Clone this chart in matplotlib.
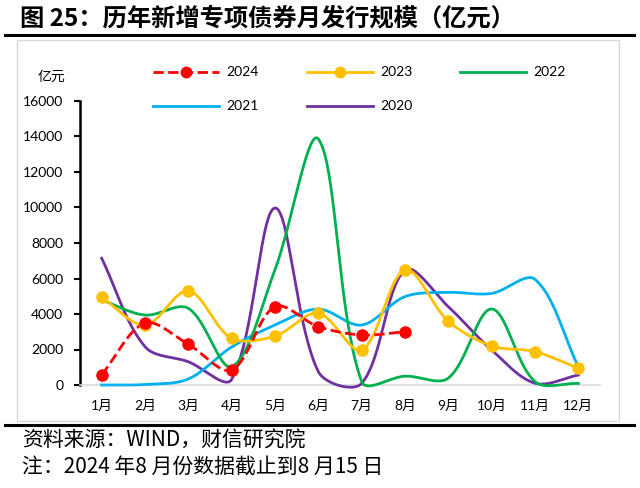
import numpy as np
import matplotlib
matplotlib.use("Agg")
import matplotlib.pyplot as plt
from matplotlib.lines import Line2D
from matplotlib.patches import Rectangle

plt.rcParams['font.family'] = ['Lato', 'Noto Sans CJK SC', 'DejaVu Sans']

months = ["1月", "2月", "3月", "4月", "5月", "6月", "7月", "8月", "9月", "10月", "11月", "12月"]
s2024 = [580, 3480, 2290, 850, 4410, 3290, 2820, 3000]
s2023 = [4940, 3380, 5300, 2630, 2760, 4040, 1970, 6480, 3600, 2200, 1880, 940]
s2022 = [4790, 3940, 4320, 1030, 6500, 13860, 190, 500, 390, 4280, 190, 90]
s2021 = [0, 30, 340, 2140, 3380, 4280, 3380, 4980, 5220, 5160, 5950, 1030]
s2020 = [7140, 2160, 1310, 320, 9970, 750, 90, 6480, 4410, 1970, 100, 560]

W, H = 640, 488
XS, YS = 43.33, 17.75 / 1000.0  # px per category / per unit


def smooth(xs, ys, n=40):
    # Bezier smoothing (Excel-like) computed in pixel-proportional space
    P = np.column_stack([np.asarray(xs, float) * XS, np.asarray(ys, float) * YS])
    P = np.vstack([P[0], P, P[-1]])
    out = []
    t = np.linspace(0, 1, n)[:, None]
    for i in range(1, len(P) - 2):
        p0, p1, p2, p3 = P[i - 1], P[i], P[i + 1], P[i + 2]
        d01 = np.linalg.norm(p1 - p0)
        d12 = np.linalg.norm(p2 - p1)
        d23 = np.linalg.norm(p3 - p2)
        a = d12 / (d01 + d12) / 1.5 if d01 + d12 > 0 else 0
        b = d12 / (d12 + d23) / 1.5 if d12 + d23 > 0 else 0
        c1 = p1 + (p2 - p0) * a * 0.5
        c2 = p2 - (p3 - p1) * b * 0.5
        seg = ((1 - t) ** 3) * p1 + 3 * ((1 - t) ** 2) * t * c1 + 3 * (1 - t) * t ** 2 * c2 + t ** 3 * p2
        out.append(seg if i == 1 else seg[1:])
    out = np.vstack(out)
    return out[:, 0] / XS, out[:, 1] / YS


fig = plt.figure(figsize=(6.4, 4.88), dpi=100)

ax = fig.add_axes([80 / W, 1 - 385 / H, (600 - 80) / W, (385 - 101) / H])

x_all = np.arange(1, 13)
series = [
    ("2020", s2020, "#7030A0", "-", None),
    ("2021", s2021, "#00B0F0", "-", None),
    ("2022", s2022, "#00B050", "-", None),
    ("2023", s2023, "#FFC000", "-", "o"),
    ("2024", s2024, "#FF0000", "--", "o"),
]
handles = {}
for name, vals, col, ls, mk in series:
    xs = x_all[:len(vals)]
    sx, sy = smooth(xs, vals)
    ax.plot(sx, sy, color=col, lw=2.0, ls=ls, zorder=3, clip_on=False)
    if mk:
        ax.plot(xs, vals, ls="none", marker=mk, ms=8, color=col, zorder=4, clip_on=False)
    handles[name] = (col, ls, mk)

ax.set_xlim(0.5, 12.5)
ax.set_ylim(0, 16000)
ax.set_yticks(np.arange(0, 16001, 2000))
ax.set_xticks(x_all)
ax.set_xticklabels(months)
ax.tick_params(axis='x', length=0, pad=11, labelsize=10)
ax.tick_params(axis='y', direction='out', length=4, width=1.5, labelsize=10, pad=8)
for s in ["top", "right"]:
    ax.spines[s].set_visible(False)
ax.spines["left"].set_linewidth(1.8)
ax.spines["bottom"].set_color("#D9D9D9")
ax.spines["bottom"].set_linewidth(1.2)

# legend (two rows, three columns)
legend_order = ["2024", "2023", "2022", "2021", "2020"]
col_x = [153, 307, 460]
row_y = [72, 106]
for k, name in enumerate(legend_order):
    col, ls, mk = handles[name]
    x0 = col_x[k % 3]
    y0 = row_y[k // 3]
    fig.add_artist(Line2D([x0 / W, (x0 + 66) / W], [1 - y0 / H, 1 - y0 / H],
                          color=col, lw=2.0, ls=ls))
    if mk:
        fig.add_artist(Line2D([(x0 + 33) / W], [1 - y0 / H], color=col,
                              marker=mk, ms=7.5, ls="none"))
    fig.text((x0 + 73) / W, 1 - y0 / H, name, fontsize=10, ha="left", va="center")

fig.text(51 / W, 1 - 76 / H, "亿元", fontsize=10, ha="center", va="center")

# title and frames
fig.text(20 / W, 1 - 18 / H, "图 25：历年新增专项债券月发行规模（亿元）",
         fontsize=17.5, fontweight="bold", ha="left", va="center",
         family=['Noto Sans CJK SC', 'DejaVu Sans'])
fig.add_artist(Line2D([5 / W, 634 / W], [1 - 35 / H, 1 - 35 / H], color="black", lw=2.2))
fig.add_artist(Line2D([5 / W, 634 / W], [1 - 425 / H, 1 - 425 / H], color="black", lw=2.2))
fig.add_artist(Rectangle((17 / W, 1 - 421 / H), (619 - 17) / W, (421 - 40) / H,
                         fill=False, edgecolor="#D9D9D9", lw=1, transform=fig.transFigure))

fig.text(22 / W, 1 - 441 / H, "资料来源：WIND，财信研究院", fontsize=15,
         ha="left", va="center", style="italic",
         family=['Noto Sans CJK SC', 'DejaVu Sans'])
fig.text(22 / W, 1 - 468 / H, "注：2024 年8 月份数据截止到8 月15 日", fontsize=15,
         ha="left", va="center", style="italic",
         family=['Noto Sans CJK SC', 'DejaVu Sans'])

fig.savefig("out.png", dpi=100)
